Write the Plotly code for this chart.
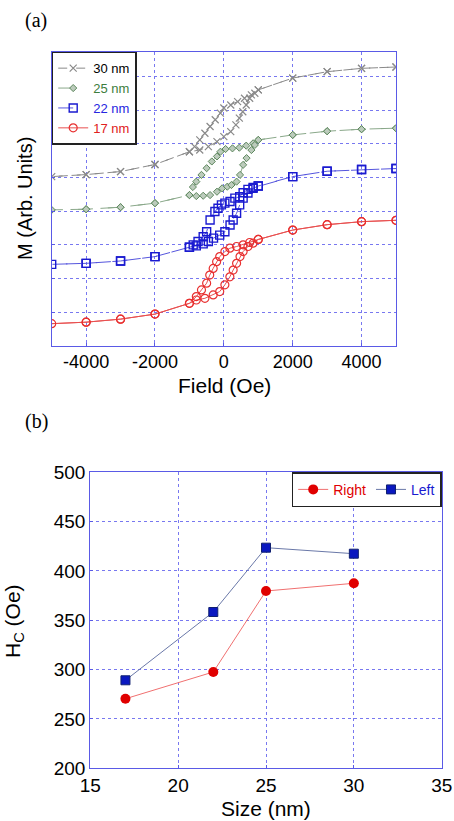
import plotly.graph_objects as go

W, H = 454, 821
FONT = "Liberation Sans, Arial, sans-serif"
SERIF = "Liberation Serif, Times New Roman, serif"

# ---------------- (a) hysteresis loops ----------------
outer_neg_field = [-5000, -4000, -3000, -2000]
outer_pos_field = [2000, 3000, 4000, 5000]

m30_neg = [5.03, 5.09, 5.18, 5.39]
m30_pos = [7.96, 8.15, 8.25, 8.29]
f30_upper = [1000, 800, 600, 400, 200, 0, -100, -250, -400, -550, -700, -850, -1000]
m30_upper = [7.61, 7.46, 7.36, 7.26, 7.16, 7.07, 6.92, 6.72, 6.52, 6.32, 6.12, 5.92, 5.77]
f30_lower = [-1000, -700, -450, -200, 0, 200, 350, 450, 550, 650, 750, 900, 1000]
m30_lower = [5.77, 5.82, 5.92, 6.07, 6.22, 6.37, 6.57, 6.77, 6.96, 7.16, 7.36, 7.51, 7.61]

m25_neg = [4.04, 4.06, 4.12, 4.24]
m25_pos = [6.27, 6.38, 6.44, 6.47]
f25_upper = [1000, 850, 650, 450, 250, 50, -100, -200, -350, -500, -650, -800, -900, -1000]
m25_upper = [6.12, 6.02, 5.95, 5.89, 5.87, 5.85, 5.77, 5.63, 5.48, 5.28, 5.08, 4.88, 4.72, 4.48]
f25_lower = [-1000, -800, -600, -400, -200, -50, 100, 220, 370, 470, 560, 660, 800, 900, 1000]
m25_lower = [4.48, 4.45, 4.46, 4.48, 4.58, 4.68, 4.73, 4.78, 4.88, 5.08, 5.38, 5.58, 5.82, 5.97, 6.12]

m22_neg = [2.42, 2.45, 2.52, 2.65]
m22_pos = [5.03, 5.19, 5.24, 5.27]
f22_upper = [1000, 850, 700, 560, 460, 320, 180, 30, -70, -170, -260, -400, -500, -600, -750, -890, -1000]
m22_upper = [4.75, 4.71, 4.65, 4.55, 4.43, 4.39, 4.29, 4.24, 4.19, 4.09, 3.99, 3.74, 3.39, 3.24, 3.10, 3.00, 2.93]
f22_lower = [-1000, -800, -600, -450, -300, -120, 30, 180, 270, 370, 460, 560, 700, 850, 1000]
m22_lower = [2.93, 2.97, 3.03, 3.10, 3.20, 3.29, 3.39, 3.59, 3.74, 3.94, 4.19, 4.39, 4.54, 4.68, 4.75]

m17_neg = [0.655, 0.70, 0.79, 0.94]
m17_pos = [3.44, 3.60, 3.69, 3.73]
f17_upper = [1000, 750, 560, 370, 175, 30, -120, -210, -310, -410, -500, -650, -800, -1000]
m17_upper = [3.16, 3.07, 3.00, 2.95, 2.90, 2.80, 2.65, 2.50, 2.30, 2.10, 1.86, 1.66, 1.46, 1.26]
f17_lower = [-1000, -800, -550, -310, -120, 30, 175, 270, 370, 470, 560, 700, 850, 1000]
m17_lower = [1.26, 1.36, 1.41, 1.51, 1.61, 1.81, 2.05, 2.25, 2.45, 2.65, 2.80, 2.95, 3.05, 3.16]

field_ticks = [-4000, -2000, 0, 2000, 4000]

# ---------------- (b) coercivity ----------------
size_nm = [17, 22, 25, 30]
hc_right = [270.5, 297.6, 379.7, 387.5]
hc_left = [289.2, 358.4, 423.6, 417.5]


def loop_path(neg, pos, fu, mu, fl, ml):
    x = outer_pos_field[::-1] + fu + outer_neg_field[::-1] + outer_neg_field[1:] + fl + outer_pos_field
    y = pos[::-1] + mu + neg[::-1] + neg[1:] + ml + pos
    return x, y


fig = go.Figure()

series = [
    ("30 nm", "#000000", m30_neg, m30_pos, f30_upper, m30_upper, f30_lower, m30_lower,
     dict(color="#8a8a8a", width=1, dash="dash"),
     dict(symbol="x-thin-open", size=7, line=dict(color="#555555", width=1.2))),
    ("25 nm", "#3d7d3d", m25_neg, m25_pos, f25_upper, m25_upper, f25_lower, m25_lower,
     dict(color="#8aa88a", width=1, dash="longdash"),
     dict(symbol="diamond", size=5.5, color="#bccbbc", line=dict(color="#5e885e", width=1))),
    ("22 nm", "#2626e0", m22_neg, m22_pos, f22_upper, m22_upper, f22_lower, m22_lower,
     dict(color="#5555dd", width=1, dash="longdash"),
     dict(symbol="square-open", size=8, color="#1a1ad0", line=dict(color="#1a1ad0", width=1.4))),
    ("17 nm", "#e02020", m17_neg, m17_pos, f17_upper, m17_upper, f17_lower, m17_lower,
     dict(color="#e85050", width=1),
     dict(symbol="circle-open", size=8, color="#e83030", line=dict(color="#e83030", width=1.2))),
]

for name, tcol, neg, pos, fu, mu, fl, ml, ln, mk in series:
    x, y = loop_path(neg, pos, fu, mu, fl, ml)
    fig.add_trace(go.Scatter(
        x=x, y=y, mode="lines+markers",
        name=f"<span style='color:{tcol}'>{name}</span>",
        line=ln, marker=mk, xaxis="x", yaxis="y", legend="legend",
    ))

fig.add_trace(go.Scatter(
    x=size_nm, y=hc_right, mode="lines+markers",
    name="<span style='color:#e00000'>Right</span>",
    line=dict(color="#f07070", width=1),
    marker=dict(symbol="circle", size=10, color="#e00000", line=dict(color="#e00000", width=0)),
    xaxis="x2", yaxis="y2", legend="legend2",
))
fig.add_trace(go.Scatter(
    x=size_nm, y=hc_left, mode="lines+markers",
    name="<span style='color:#1a1ad0'>Left</span>",
    line=dict(color="#6a78a8", width=1),
    marker=dict(symbol="square", size=9, color="#0a18c0", line=dict(color="#102070", width=1)),
    xaxis="x2", yaxis="y2", legend="legend2",
))

grid = dict(showgrid=True, gridcolor="#7878f0", gridwidth=1, griddash="dot",
            showline=True, linecolor="#5a5ae6", linewidth=1.2, mirror=True,
            zeroline=False, ticks="inside", ticklen=3, tickcolor="#5a5ae6",
            automargin=False)

fig.update_layout(
    width=W, height=H, autosize=False,
    margin=dict(l=0, r=0, t=0, b=0, pad=0),
    paper_bgcolor="white", plot_bgcolor="white",
    font=dict(family=FONT, color="black"),
    xaxis=dict(domain=[51.7 / W, 396 / W], anchor="y", range=[-5000, 5000],
               tickvals=field_ticks, ticktext=[str(v) for v in field_ticks],
               tickfont=dict(size=18, family=FONT), **grid),
    yaxis=dict(domain=[1 - 345.7 / H, 1 - 51.7 / H], anchor="x", range=[0, 8.745],
               dtick=1, showticklabels=False, **grid),
    xaxis2=dict(domain=[90.3 / W, 441.7 / W], anchor="y2", range=[15, 35], dtick=5,
                tickfont=dict(size=19, family=FONT), **grid),
    yaxis2=dict(domain=[1 - 768.3 / H, 1 - 472.3 / H], anchor="x2", range=[200, 500], dtick=50,
                tickfont=dict(size=19, family=FONT), **grid),
    legend=dict(x=51.7 / W, y=1 - 51.7 / H, xanchor="left", yanchor="top",
                bgcolor="white", bordercolor="#222222", borderwidth=1.5,
                font=dict(size=13, family=FONT), tracegroupgap=0, itemwidth=30),
    legend2=dict(x=441.7 / W, y=1 - 472.3 / H, xanchor="right", yanchor="top",
                 orientation="h", bgcolor="white", bordercolor="#222222", borderwidth=1.5,
                 font=dict(size=14, family=FONT)),
    showlegend=True,
)

ann = [
    dict(text="(a)", x=36 / W, y=1 - 21 / H, font=dict(size=20, family=SERIF)),
    dict(text="(b)", x=36 / W, y=1 - 421 / H, font=dict(size=20, family=SERIF)),
    dict(text="M (Arb. Units)", x=25 / W, y=1 - 199 / H, textangle=-90, font=dict(size=20, family=FONT)),
    dict(text="Field (Oe)", x=224 / W, y=1 - 386 / H, font=dict(size=21, family=FONT)),
    dict(text="H<sub>C</sub> (Oe)", x=14 / W, y=1 - 621 / H, textangle=-90, font=dict(size=21, family=FONT)),
    dict(text="Size (nm)", x=266 / W, y=1 - 808 / H, font=dict(size=21, family=FONT)),
]
for a in ann:
    fig.add_annotation(xref="paper", yref="paper", showarrow=False,
                       xanchor="center", yanchor="middle", **a)

fig.write_html("out.html", config={"displayModeBar": False},
               post_script="document.body.style.margin='0px';document.body.style.overflow='hidden';")
